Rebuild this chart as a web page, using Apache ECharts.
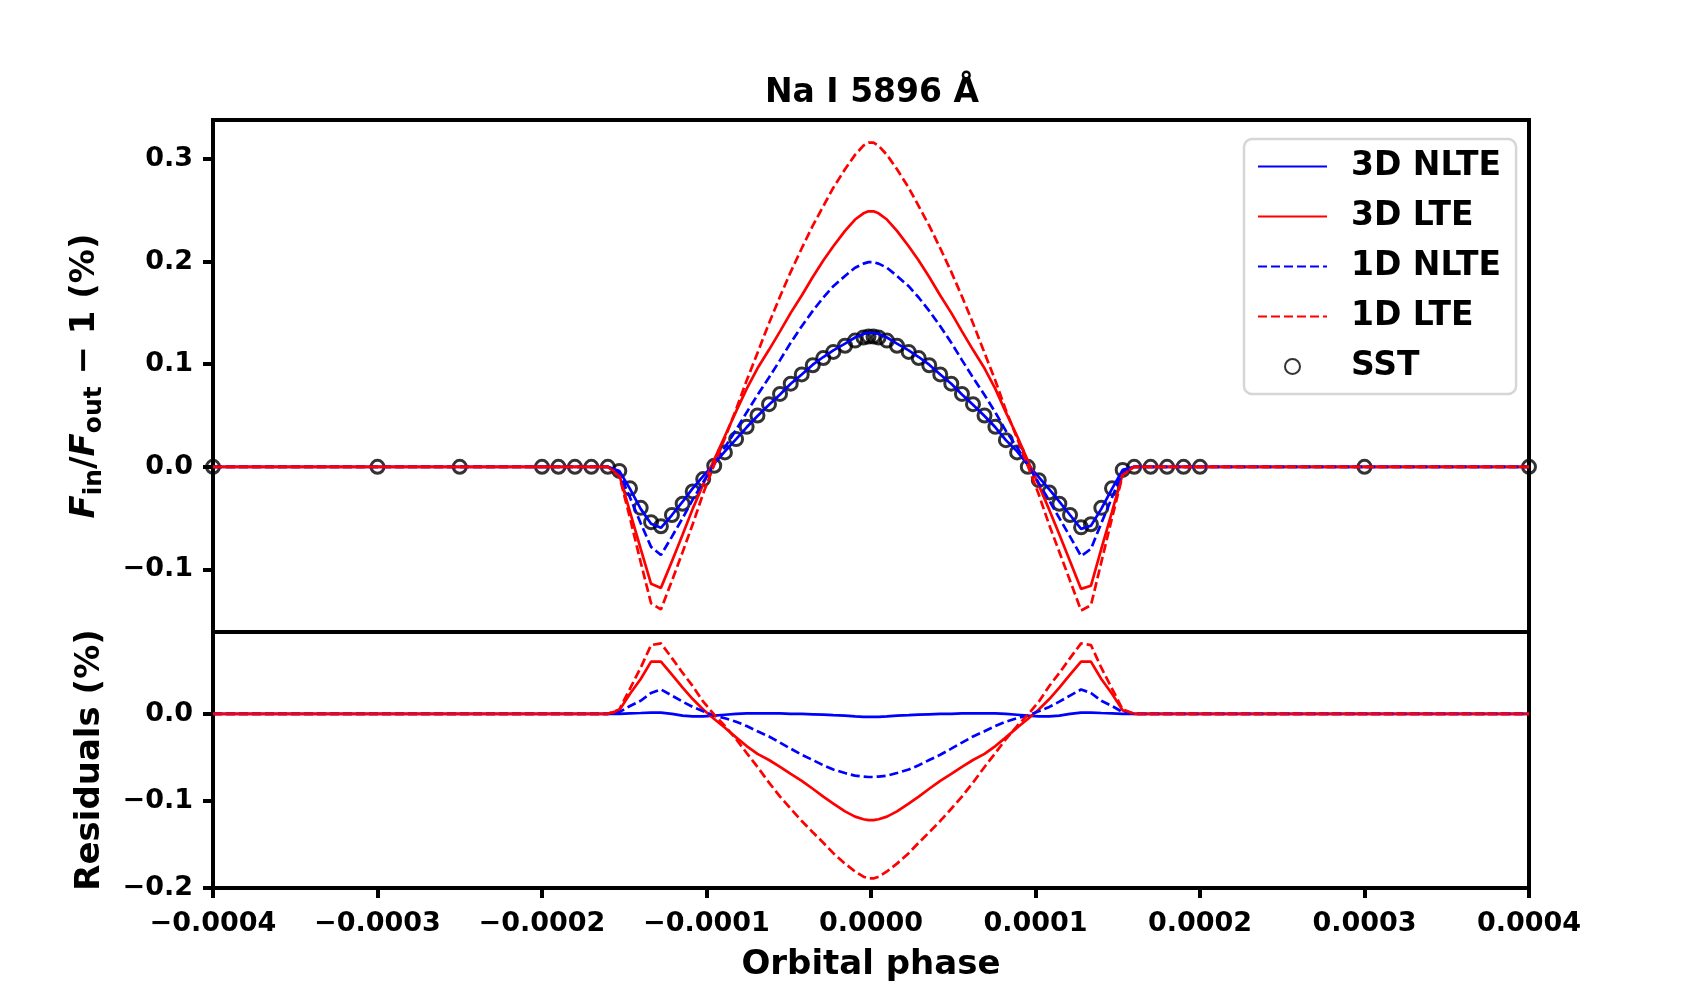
<!DOCTYPE html>
<html>
<head>
<meta charset="utf-8">
<script src="https://cdn.jsdelivr.net/npm/echarts@6/dist/echarts.min.js"></script>
<style>
  html, body { margin: 0; padding: 0; background: #fff; }
  #chart { width: 1700px; height: 1000px; }
</style>
</head>
<body>
<div id="chart"></div>
<script>
// orbital phase of every SST point (models are given at the same phases)
const phase = [
  -4.0e-4, -3.0e-4, -2.5e-4, -2.0e-4, -1.9e-4, -1.8e-4, -1.7e-4, -1.6e-4,
  -1.53e-4, -1.465e-4, -1.40e-4, -1.337e-4, -1.277e-4, -1.21e-4, -1.145e-4, -1.084e-4, -1.02e-4, -0.953e-4,
  -0.888e-4, -0.82e-4, -0.756e-4, -0.69e-4, -0.62e-4, -0.553e-4, -0.488e-4, -0.421e-4, -0.354e-4, -0.29e-4,
  -0.229e-4, -0.158e-4, -0.097e-4, -0.046e-4, -0.015e-4,
  0.015e-4, 0.046e-4, 0.097e-4, 0.158e-4, 0.229e-4, 0.29e-4, 0.354e-4, 0.421e-4, 0.488e-4, 0.553e-4,
  0.62e-4, 0.69e-4, 0.756e-4, 0.82e-4, 0.888e-4, 0.953e-4, 1.02e-4, 1.084e-4, 1.145e-4, 1.21e-4,
  1.277e-4, 1.337e-4, 1.40e-4, 1.465e-4, 1.53e-4,
  1.6e-4, 1.7e-4, 1.8e-4, 1.9e-4, 2.0e-4, 3.0e-4, 4.0e-4
];

// observed light curve (%)
const sst = [
  0, 0, 0, 0, 0, 0, 0, 0,
  -0.004, -0.021, -0.040, -0.054, -0.058, -0.047, -0.036, -0.024, -0.012, 0.001, 0.014, 0.027, 0.039,
  0.050, 0.061, 0.071, 0.081, 0.090, 0.099, 0.106, 0.112, 0.118, 0.123, 0.126, 0.127,
  0.127, 0.126, 0.123, 0.118, 0.112, 0.106, 0.099, 0.090, 0.081, 0.071, 0.061, 0.050, 0.039,
  0.026, 0.014, 0.000, -0.013, -0.025, -0.036, -0.047, -0.059, -0.056, -0.040, -0.021, -0.003,
  0, 0, 0, 0, 0, 0, 0
];

// model light curves (%)
const m3dNlte = [
  0, 0, 0, 0, 0, 0, 0, 0,
  -0.004, -0.0215, -0.041, -0.0555, -0.0595, -0.047, -0.034, -0.021, -0.009, 0.003, 0.015, 0.027, 0.0385,
  0.0495, 0.0605, 0.0705, 0.081, 0.090, 0.0995, 0.107, 0.1135, 0.120, 0.126, 0.1295, 0.1305,
  0.1305, 0.1295, 0.126, 0.120, 0.1135, 0.107, 0.0995, 0.090, 0.081, 0.0705, 0.0605, 0.0495, 0.0385,
  0.026, 0.015, 0.002, -0.010, -0.022, -0.034, -0.047, -0.0605, -0.0575, -0.041, -0.0215, -0.003,
  0, 0, 0, 0, 0, 0, 0
];
const m3dLte = [
  0, 0, 0, 0, 0, 0, 0, 0,
  -0.008, -0.044, -0.080, -0.114, -0.118, -0.092, -0.066, -0.041, -0.017, 0.007, 0.030, 0.054, 0.076,
  0.096, 0.114, 0.132, 0.150, 0.167, 0.185, 0.201, 0.215, 0.230, 0.241, 0.247, 0.249,
  0.249, 0.247, 0.241, 0.230, 0.215, 0.201, 0.185, 0.167, 0.150, 0.132, 0.114, 0.096, 0.076,
  0.053, 0.030, 0.006, -0.018, -0.042, -0.066, -0.092, -0.119, -0.116, -0.080, -0.044, -0.007,
  0, 0, 0, 0, 0, 0, 0
];
const m1dNlte = [
  0, 0, 0, 0, 0, 0, 0, 0,
  -0.006, -0.030, -0.055, -0.078, -0.086, -0.068, -0.050, -0.032, -0.015, 0.003, 0.019, 0.036, 0.053,
  0.070, 0.087, 0.104, 0.121, 0.137, 0.152, 0.165, 0.176, 0.186, 0.194, 0.198, 0.1995,
  0.1995, 0.198, 0.194, 0.186, 0.176, 0.165, 0.152, 0.137, 0.121, 0.104, 0.087, 0.070, 0.053,
  0.035, 0.019, 0.002, -0.016, -0.033, -0.050, -0.068, -0.087, -0.080, -0.055, -0.030, -0.005,
  0, 0, 0, 0, 0, 0, 0
];
const m1dLte = [
  0, 0, 0, 0, 0, 0, 0, 0,
  -0.009, -0.050, -0.093, -0.133, -0.139, -0.111, -0.083, -0.056, -0.026, 0.002, 0.028, 0.056, 0.084,
  0.111, 0.140, 0.166, 0.190, 0.213, 0.235, 0.254, 0.272, 0.290, 0.304, 0.313, 0.316,
  0.316, 0.313, 0.304, 0.290, 0.272, 0.254, 0.235, 0.213, 0.190, 0.166, 0.140, 0.111, 0.084,
  0.055, 0.028, 0.001, -0.027, -0.057, -0.083, -0.111, -0.140, -0.135, -0.093, -0.050, -0.008,
  0, 0, 0, 0, 0, 0, 0
];

// residuals, SST minus model (%)
const r3dNlte = [
  0, 0, 0, 0, 0, 0, 0, 0,
  0, 0.0005, 0.001, 0.0015, 0.0015, 0, -0.002, -0.003, -0.003, -0.002, -0.001, 0, 0.0005,
  0.0005, 0.0005, 0.0005, 0, 0, -0.0005, -0.001, -0.0015, -0.002, -0.003, -0.0035, -0.0035,
  -0.0035, -0.0035, -0.003, -0.002, -0.0015, -0.001, -0.0005, 0, 0, 0.0005, 0.0005, 0.0005, 0.0005,
  0, -0.001, -0.002, -0.003, -0.003, -0.002, 0, 0.0015, 0.0015, 0.001, 0.0005, 0,
  0, 0, 0, 0, 0, 0, 0
];
const r3dLte = [
  0, 0, 0, 0, 0, 0, 0, 0,
  0.004, 0.023, 0.040, 0.060, 0.060, 0.045, 0.030, 0.017, 0.005, -0.006, -0.016, -0.027, -0.037,
  -0.046, -0.053, -0.061, -0.069, -0.077, -0.086, -0.095, -0.103, -0.112, -0.118, -0.121, -0.122,
  -0.122, -0.121, -0.118, -0.112, -0.103, -0.095, -0.086, -0.077, -0.069, -0.061, -0.053, -0.046, -0.037,
  -0.027, -0.016, -0.006, 0.005, 0.017, 0.030, 0.045, 0.060, 0.060, 0.040, 0.023, 0.004,
  0, 0, 0, 0, 0, 0, 0
];
const r1dNlte = [
  0, 0, 0, 0, 0, 0, 0, 0,
  0.002, 0.009, 0.015, 0.024, 0.028, 0.021, 0.014, 0.008, 0.003, -0.002, -0.005, -0.009, -0.014,
  -0.020, -0.026, -0.033, -0.040, -0.047, -0.053, -0.059, -0.064, -0.068, -0.071, -0.072, -0.0725,
  -0.0725, -0.072, -0.071, -0.068, -0.064, -0.059, -0.053, -0.047, -0.040, -0.033, -0.026, -0.020, -0.014,
  -0.009, -0.005, -0.002, 0.003, 0.008, 0.014, 0.021, 0.028, 0.024, 0.015, 0.009, 0.002,
  0, 0, 0, 0, 0, 0, 0
];
const r1dLte = [
  0, 0, 0, 0, 0, 0, 0, 0,
  0.005, 0.029, 0.053, 0.079, 0.081, 0.064, 0.047, 0.032, 0.014, -0.001, -0.014, -0.029, -0.045,
  -0.061, -0.079, -0.095, -0.109, -0.123, -0.136, -0.148, -0.160, -0.172, -0.181, -0.187, -0.189,
  -0.189, -0.187, -0.181, -0.172, -0.160, -0.148, -0.136, -0.123, -0.109, -0.095, -0.079, -0.061, -0.045,
  -0.029, -0.014, -0.001, 0.014, 0.032, 0.047, 0.064, 0.081, 0.079, 0.053, 0.029, 0.005,
  0, 0, 0, 0, 0, 0, 0
];

const FONT = 'DejaVu Sans';
const BLUE = '#0000ff';
const RED = '#ff0000';
const DASH = [9, 4];

const pairs = ys => phase.map((x, i) => [x, ys[i]]);
const minus = s => s.replace('-', '\u2212');

const lineSeries = (name, ys, color, dashed, panel) => ({
  name: name,
  type: 'line',
  xAxisIndex: panel,
  yAxisIndex: panel,
  data: pairs(ys),
  symbol: 'none',
  clip: true,
  lineStyle: { color: color, width: 2.7, type: dashed ? DASH : 'solid' },
  itemStyle: { color: color },
  z: 3
});

const axisLab = { fontFamily: FONT, fontWeight: 'bold', fontSize: 27, color: '#000' };
const tick = { show: true, length: 10, lineStyle: { color: '#000', width: 4 } };
const noLine = { show: false, onZero: false };
const labFont = { fontFamily: FONT, fontWeight: 'bold', fontSize: 34, color: '#000' };
const yName = Object.assign({
  rich: {
    i: { fontFamily: FONT, fontWeight: 'bold', fontStyle: 'italic', fontSize: 34, lineHeight: 44, color: '#000' },
    s: { fontFamily: FONT, fontWeight: 'bold', fontSize: 25, lineHeight: 25, verticalAlign: 'bottom', color: '#000' },
    t: { fontFamily: FONT, fontWeight: 'bold', fontSize: 34, lineHeight: 44, color: '#000' }
  }
}, labFont);
// legend entries: lines without a marker, SST as a hollow circle
const hideDot = { opacity: 0 };

const chart = echarts.init(document.getElementById('chart'));
chart.setOption({
  animation: false,
  backgroundColor: '#fff',
  title: {
    text: 'Na I 5896 \u00C5',
    left: 867,
    top: 72,
    textAlign: 'center',
    textStyle: { fontFamily: FONT, fontWeight: 'bold', fontSize: 33, color: '#000' }
  },
  legend: {
    orient: 'vertical',
    left: 1244,
    top: 139,
    padding: [11, 15, 11, 13],
    itemWidth: 69,
    itemHeight: 15,
    itemGap: 17,
    backgroundColor: '#fff',
    borderColor: '#d6d6d6',
    borderWidth: 2.5,
    borderRadius: 8,
    textStyle: { fontFamily: FONT, fontWeight: 'bold', fontSize: 33, color: '#000', padding: [0, 0, 0, 19] },
    data: [
      { name: '3D NLTE', itemStyle: hideDot },
      { name: '3D LTE', itemStyle: hideDot },
      { name: '1D NLTE', itemStyle: hideDot },
      { name: '1D LTE', itemStyle: hideDot },
      { name: 'SST' }
    ]
  },
  grid: [
    { left: 213, top: 120, width: 1316, height: 512, show: true, borderColor: '#000', borderWidth: 4, backgroundColor: 'transparent' },
    { left: 213, top: 632, width: 1316, height: 256, show: true, borderColor: '#000', borderWidth: 4, backgroundColor: 'transparent' }
  ],
  xAxis: [
    {
      gridIndex: 0, type: 'value', min: -0.0004, max: 0.0004, interval: 0.0001,
      axisLine: noLine, axisTick: { show: false }, axisLabel: { show: false }, splitLine: { show: false }
    },
    {
      gridIndex: 1, type: 'value', min: -0.0004, max: 0.0004, interval: 0.0001,
      axisLine: noLine, axisTick: tick, splitLine: { show: false },
      axisLabel: Object.assign({ margin: 22, formatter: v => minus(v.toFixed(4)) }, axisLab),
      name: 'Orbital phase', nameLocation: 'middle', nameGap: 60, nameTextStyle: labFont
    }
  ],
  yAxis: [
    {
      gridIndex: 0, type: 'value', min: -0.161, max: 0.338, splitNumber: 5,
      axisLine: noLine, axisTick: tick, splitLine: { show: false },
      axisLabel: Object.assign({ margin: 20, showMinLabel: false, showMaxLabel: false,
        formatter: v => minus(v.toFixed(1)) }, axisLab),
      name: '{i|F}{s|in}{t|/}{i|F}{s|out}{t| \u2212 1 (%)}',
      nameLocation: 'middle', nameRotate: 90, nameGap: 106, nameTextStyle: yName
    },
    {
      gridIndex: 1, type: 'value', min: -0.2, max: 0.094, interval: 0.1,
      axisLine: noLine, axisTick: tick, splitLine: { show: false },
      axisLabel: Object.assign({ margin: 20, showMaxLabel: false,
        formatter: v => minus(v.toFixed(1)) }, axisLab),
      name: 'Residuals (%)',
      nameLocation: 'middle', nameRotate: 90, nameGap: 106, nameTextStyle: labFont
    }
  ],
  series: [
    {
      name: 'SST',
      type: 'scatter',
      xAxisIndex: 0,
      yAxisIndex: 0,
      data: pairs(sst),
      symbol: 'circle',
      symbolSize: 13,
      itemStyle: { color: 'rgba(0,0,0,0)', borderColor: '#000', borderWidth: 3 },
      z: 2
    },
    lineSeries('3D NLTE', m3dNlte, BLUE, false, 0),
    lineSeries('3D LTE', m3dLte, RED, false, 0),
    lineSeries('1D NLTE', m1dNlte, BLUE, true, 0),
    lineSeries('1D LTE', m1dLte, RED, true, 0),
    lineSeries('3D NLTE', r3dNlte, BLUE, false, 1),
    lineSeries('3D LTE', r3dLte, RED, false, 1),
    lineSeries('1D NLTE', r1dNlte, BLUE, true, 1),
    lineSeries('1D LTE', r1dLte, RED, true, 1)
  ]
});
</script>
</body>
</html>
